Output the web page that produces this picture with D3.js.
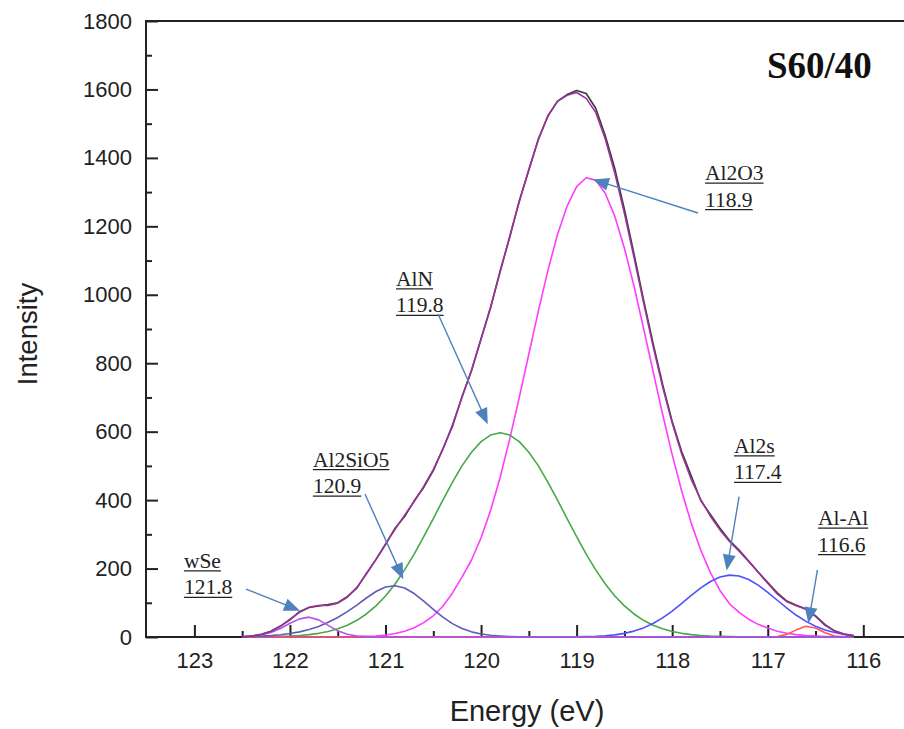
<!DOCTYPE html>
<html>
<head>
<meta charset="utf-8">
<script src="https://cdn.jsdelivr.net/npm/d3@7"></script>
<style>
  html, body { margin: 0; padding: 0; background: #fff; }
  svg { display: block; }
</style>
</head>
<body>
<svg id="chart" width="904" height="729"></svg>
<script>
// Binding energy grid (eV), 0.1 eV steps
const energy = [122.5,122.4,122.3,122.2,122.1,122.0,121.9,121.8,121.7,121.6,
  121.5,121.4,121.3,121.2,121.1,121.0,120.9,120.8,120.7,120.6,
  120.5,120.4,120.3,120.2,120.1,120.0,119.9,119.8,119.7,119.6,
  119.5,119.4,119.3,119.2,119.1,119.0,118.9,118.8,118.7,118.6,
  118.5,118.4,118.3,118.2,118.1,118.0,117.9,117.8,117.7,117.6,
  117.5,117.4,117.3,117.2,117.1,117.0,116.9,116.8,116.7,116.6,
  116.5,116.4,116.3,116.2,116.1];

// Measured spectrum
const measured = [0,3,8,17,32,50,74,86,91,95,
  100,118,143,186,226,270,318,352,398,437,
  486,550,615,702,778,872,962,1070,1168,1275,
  1364,1456,1522,1566,1585,1597,1588,1545,1465,1368,
  1250,1120,986,858,738,630,541,470,398,358,
  318,282,254,222,190,159,129,105,93,82,
  62,36,18,8,3];

// Fitted envelope
const envelope = [1,3,7,16,31,52,72,87,92,92,
  99,116,145,184,227,272,315,356,396,440,
  489,548,619,700,780,870,965,1067,1171,1272,
  1367,1453,1524,1565,1583,1591,1574,1533,1455,1355,
  1238,1110,978,850,731,625,535,460,401,353,
  313,279,251,221,189,157,126,103,91,81,
  60,34,17,8.5,4.6];

// Fitted components
const wSe = [0.5,2,6,13,25,40,53,58,50,34,
  18,8,3,1,0.3,0,0,0,0,0,
  0,0,0,0,0,0,0,0,0,0,
  0,0,0,0,0,0,0,0,0,0,
  0,0,0,0,0,0,0,0,0,0,
  0,0,0,0,0,0,0,0,0,0,
  0,0,0,0,0];

const al2sio5 = [1,1.5,2.5,4,6.5,10,15,22,31,43,
  57,74,93,114,133,146,150,143,127,105,
  81,58,39,25,15,9,5,3,1.6,0.8,
  0.4,0.2,0,0,0,0,0,0,0,0,
  0,0,0,0,0,0,0,0,0,0,
  0,0,0,0,0,0,0,0,0,0,
  0,0,0,0,0];

const alN = [0.2,0.3,0.6,1,1.7,2.7,4.4,6.9,10.7,16.2,
  23.9,34.5,48.7,67.3,90.9,120,155,196,242,293,
  346,400,452,500,540,571,590,597,590,571,
  540,500,452,400,346,293,242,196,155,120,
  90.9,67.3,48.7,34.5,23.9,16.2,10.7,6.9,4.4,2.7,
  1.7,1,0.6,0.3,0.2,0.1,0,0,0,0,
  0,0,0,0,0];

const al2o3 = [0,0,0,0,0,0,0,0,0,0,
  0.3,0.5,1,1.8,3.1,6,10,17,27,42,
  62,90,128,175,225,290,370,467,579,700,
  827,953,1072,1176,1259,1316,1342,1335,1296,1229,
  1136,1026,903,776,651,533,426,332,253,188,
  136,97,72,52,37,26,17,11,7,4,
  2.5,1.5,0.8,0.4,0.2];

const al2s = [0,0,0,0,0,0,0,0,0,0,
  0,0,0,0,0,0,0,0,0,0,
  0,0,0,0,0,0,0,0,0,0,
  0,0,0,0,0.2,0.5,1,1.9,3.5,6.2,
  10.6,17.2,26.6,39.5,56,75.8,98.2,121.5,143.6,162.2,
  175.2,180.8,178.4,168.2,151.6,130.5,107.4,84.5,63.5,45.7,
  31.4,20.6,12.9,7.7,4.4];

const alAl = [0,0,0,0,0,0,0,0,0,0,
  0,0,0,0,0,0,0,0,0,0,
  0,0,0,0,0,0,0,0,0,0,
  0,0,0,0,0,0,0,0,0,0,
  0,0,0,0,0,0,0,0,0,0,
  0,0,0,0,0,0.2,1.5,7.6,20.9,31.6,
  26.5,12.3,3.1,0.4,0];

// Peak assignments and their binding energies
const peakNames = ['wSe', 'Al2SiO5', 'AlN', 'Al2O3', 'Al2s', 'Al-Al'];
const peakCenters = [121.8, 120.9, 119.8, 118.9, 117.4, 116.6];

// Axis ticks
const xMajorTicks = [123, 122, 121, 120, 119, 118, 117, 116];
const xMinorTicks = [122.5, 121.5, 120.5, 119.5, 118.5, 117.5, 116.5];
const yMajorTicks = [0, 200, 400, 600, 800, 1000, 1200, 1400, 1600, 1800];
const yMinorTicks = [100, 300, 500, 700, 900, 1100, 1300, 1500, 1700];

(function draw() {
  const svg = d3.select('#chart');
  const W = 904;
  const plotLeft = 146, plotTop = 21, plotBottom = 637;

  const x = d3.scaleLinear().domain([123, 116]).range([194.4, 863.3]);
  const y = d3.scaleLinear().domain([0, 1800]).range([plotBottom, plotTop]);

  const axisColor = '#222';
  const sans = '"Liberation Sans", Arial, sans-serif';
  const serif = '"Liberation Serif", "Times New Roman", serif';

  // Axes with inward ticks
  const gy = svg.append('g').attr('transform', `translate(${plotLeft},0)`);
  gy.call(d3.axisLeft(y).tickValues(yMajorTicks).tickSize(-12).tickPadding(14).tickFormat(d3.format('d')));
  gy.append('g').call(d3.axisLeft(y).tickValues(yMinorTicks).tickSize(-6).tickFormat(''));

  const gx = svg.append('g').attr('transform', `translate(0,${plotBottom})`);
  gx.call(d3.axisBottom(x).tickValues(xMajorTicks).tickSize(-12).tickPadding(15).tickFormat(d3.format('d')));
  gx.append('g').call(d3.axisBottom(x).tickValues(xMinorTicks).tickSize(-6).tickFormat(''));

  svg.selectAll('.domain').remove();
  svg.selectAll('.tick line').attr('stroke', axisColor).attr('stroke-width', 2);
  svg.selectAll('.tick text')
    .attr('fill', axisColor)
    .style('font-family', sans)
    .style('font-size', '22px');

  // Frame lines: left, top, bottom
  const frame = svg.append('g').attr('stroke', axisColor).attr('stroke-width', 2).attr('fill', 'none');
  frame.append('line').attr('x1', plotLeft).attr('y1', plotTop - 1).attr('x2', plotLeft).attr('y2', plotBottom + 1);
  frame.append('line').attr('x1', plotLeft - 1).attr('y1', plotTop).attr('x2', W + 2).attr('y2', plotTop);
  frame.append('line').attr('x1', plotLeft - 1).attr('y1', plotBottom).attr('x2', W + 2).attr('y2', plotBottom);

  // Curves
  const line = d3.line()
    .x((d, i) => x(energy[i]))
    .y(d => y(d));

  const components = [
    { values: al2o3, color: '#ff3cff' },
    { values: alN, color: '#47a947' },
    { values: al2s, color: '#4f4fff' },
    { values: alAl, color: '#ff5555' },
    { values: al2sio5, color: '#5e5cb6' },
    { values: wSe, color: '#b454ec' }
  ];

  const curves = svg.append('g').attr('fill', 'none').attr('stroke-linejoin', 'round');
  components.forEach(c => {
    curves.append('path').datum(c.values)
      .attr('d', line).attr('stroke', c.color).attr('stroke-width', 1.6);
  });
  curves.append('path').datum(measured)
    .attr('d', line).attr('stroke', '#3a3a3a').attr('stroke-width', 1.6);
  curves.append('path').datum(envelope)
    .attr('d', line).attr('stroke', '#9a329a').attr('stroke-width', 1.6);

  // Peak callouts (positions in data units)
  const calloutLayout = [
    { text: [123.11, 202], tail: [122.46, 140], tip: [121.895, 77] },
    { text: [121.76, 498], tail: [121.215, 418], tip: [120.814, 169] },
    { text: [120.89, 1026], tail: [120.45, 944], tip: [119.93, 622] },
    { text: [117.656, 1335], tail: [117.73, 1239], tip: [118.83, 1337] },
    { text: [117.353, 538], tail: [117.30, 410], tip: [117.43, 194] },
    { text: [116.474, 327], tail: [116.48, 196], tip: [116.575, 40] }
  ];

  const arrowColor = '#4f81bd';
  const notes = svg.append('g');

  function drawArrow(g, x1, y1, x2, y2) {
    const dx = x2 - x1, dy = y2 - y1;
    const L = Math.hypot(dx, dy);
    const ux = dx / L, uy = dy / L;
    const hl = 16, hw = 6.5;
    const bx = x2 - ux * hl, by = y2 - uy * hl;
    g.append('line')
      .attr('x1', x1).attr('y1', y1).attr('x2', bx + ux * 2).attr('y2', by + uy * 2)
      .attr('stroke', arrowColor).attr('stroke-width', 1.4);
    g.append('path')
      .attr('d', `M${x2},${y2}L${bx - uy * hw},${by + ux * hw}L${bx + uy * hw},${by - ux * hw}Z`)
      .attr('fill', arrowColor);
  }

  function underlinedText(g, tx, ty, str) {
    const t = g.append('text')
      .attr('x', tx).attr('y', ty)
      .attr('fill', '#222')
      .style('font-family', serif)
      .style('font-size', '21.5px')
      .text(str);
    const w = t.node().getComputedTextLength();
    g.append('line')
      .attr('x1', tx).attr('x2', tx + w)
      .attr('y1', ty + 3).attr('y2', ty + 3)
      .attr('stroke', '#222').attr('stroke-width', 1.3);
  }

  peakNames.forEach((name, i) => {
    const lay = calloutLayout[i];
    const tx = x(lay.text[0]), ty = y(lay.text[1]);
    underlinedText(notes, tx, ty, name);
    underlinedText(notes, tx, ty + 26.5, peakCenters[i].toFixed(1));
    drawArrow(notes, x(lay.tail[0]), y(lay.tail[1]), x(lay.tip[0]), y(lay.tip[1]));
  });

  // Sample title
  svg.append('text')
    .attr('x', 767).attr('y', 78)
    .attr('fill', '#111')
    .style('font-family', serif)
    .style('font-weight', 'bold')
    .style('font-size', '37px')
    .text('S60/40');

  // Axis titles
  svg.append('text')
    .attr('x', 527).attr('y', 721)
    .attr('text-anchor', 'middle')
    .attr('fill', axisColor)
    .style('font-family', sans)
    .style('font-size', '29px')
    .text('Energy (eV)');

  svg.append('text')
    .attr('transform', 'translate(37,334) rotate(-90)')
    .attr('text-anchor', 'middle')
    .attr('fill', axisColor)
    .style('font-family', sans)
    .style('font-size', '27.5px')
    .text('Intensity');
})();
</script>
</body>
</html>
